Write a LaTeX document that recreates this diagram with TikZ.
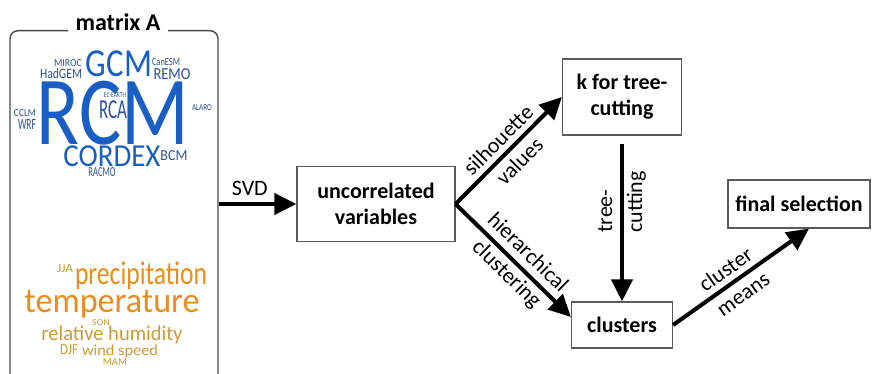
\documentclass[tikz,border=0pt]{standalone}
\usepackage{fontspec}
\setmainfont{Carlito}
\usetikzlibrary{arrows.meta,positioning}

\definecolor{cloudblue}{RGB}{25,95,195}
\definecolor{cloudnavy}{RGB}{45,80,150}
\definecolor{cloudorange}{RGB}{235,140,30}
\definecolor{cloudochre}{RGB}{205,155,55}
\definecolor{boxgray}{RGB}{90,90,90}
\definecolor{framegray}{RGB}{70,70,70}

\tikzset{
  stepbox/.style={draw=boxgray, line width=0.6pt, align=center, inner sep=2pt,
    font=\bfseries\fontsize{11}{13}\selectfont},
  flow/.style={line width=2pt, -{Triangle[length=11pt,width=10.5pt]}},
  lbl/.style={font=\fontsize{11}{15}\selectfont, align=center, inner sep=0pt},
  cloud/.style={inner sep=0pt},
}

\begin{document}
\begin{tikzpicture}[x=0.5pt,y=-0.5pt]
\useasboundingbox (0,0) rectangle (874,374);

\node[draw=framegray, line width=0.7pt, rounded corners=4pt, minimum width=104pt,
  minimum height=185pt, anchor=north] (matA) at (114,30) {};
\node[fill=white, anchor=base, inner xsep=4pt, inner ysep=1pt,
  font=\bfseries\fontsize{12}{14}\selectfont] (title) at (118,31) {matrix A};

\foreach \px/\py/\wdt/\hgt/\col/\word [count=\i] in {
  113/113/76/32/cloudblue/RCM,
  119/64/33/13/cloudblue/GCM,
  68/63/14/3.5/cloudnavy/MIROC,
  61/74/21/5/cloudnavy/HadGEM,
  166/62/14/3.5/cloudnavy/CanESM,
  172/74/18.5/5.5/cloudnavy/REMO,
  25/113/11/3.5/cloudnavy/CCLM,
  27/125/9/5/cloudnavy/WRF,
  115/95/11/2.5/cloudnavy/EC-EARTH,
  113/110/14/9/cloudnavy/RCA,
  202/108/10/3/cloudnavy/ALARO,
  112/156/48.5/10.5/cloudblue/CORDEX,
  174/156/13.5/5/cloudnavy/BCM,
  102/172/13.5/4.5/cloudnavy/RACMO,
  141/276/66/14/cloudorange/precipitation,
  65/269/8/4/cloudochre/JJA,
  112/304/87.5/14/cloudorange/temperature,
  101/323/9/3/cloudochre/SON,
  112/335/70.5/9/cloudochre/relative humidity,
  69/350/9/5/cloudochre/DJF,
  120/351/38/6.5/cloudochre/wind speed,
  115/362/12/3.5/cloudochre/MAM}{
  \node[cloud, text=\col] (word\i) at (\px,\py) {\resizebox*{\wdt pt}{\hgt pt}{\word}};
}

\node[stepbox, minimum width=79pt, minimum height=37.5pt] (uncor) at (376,204) {uncorrelated\\variables};
\node[stepbox, minimum width=59.5pt, minimum height=38pt] (kcut) at (622,97) {k for tree-\\cutting};
\node[stepbox, minimum width=50.5pt, minimum height=23pt] (clust) at (622,325) {clusters};
\node[stepbox, minimum width=71pt, minimum height=24pt] (final) at (799,204) {final selection};

\draw[flow] (matA.east |- uncor.west) -- node[lbl, above=3pt, pos=0.4]{SVD} (uncor.west);
\draw[flow] (uncor.east) -- node[lbl, sloped]{silhouette\\values} (kcut.west);
\draw[flow] (uncor.east) -- node[lbl, sloped, pos=0.53]{hierarchical\\clustering} ([yshift=4pt]clust.west);
\draw[flow, shorten <=4pt] (kcut) -- node[lbl, rotate=90, align=left, pos=0.4]{tree-\\cutting} (clust);
\draw[flow] (clust.east) -- node[lbl, sloped, pos=0.45]{cluster\\means} ([xshift=5pt]final.south);
\end{tikzpicture}
\end{document}
